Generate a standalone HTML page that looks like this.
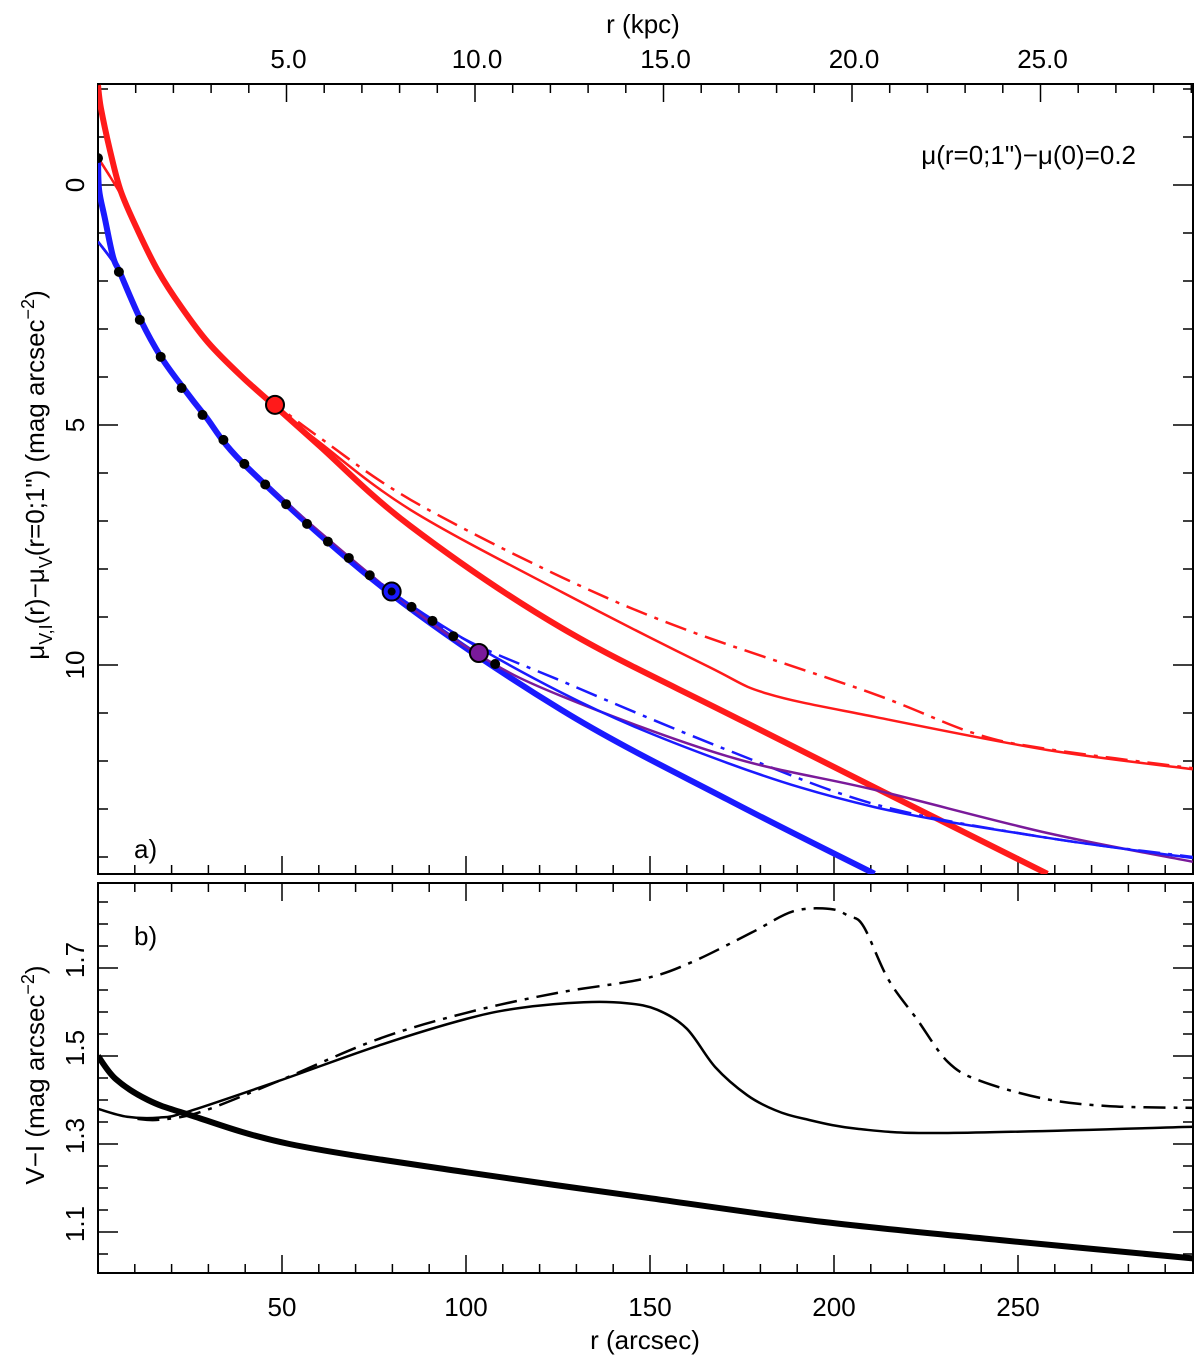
<!DOCTYPE html>
<html><head><meta charset="utf-8"><style>
html,body{margin:0;padding:0;background:#fff;}
svg{display:block;font-family:"Liberation Sans",sans-serif;}
</style></head><body>
<svg id="chart" width="1200" height="1360" viewBox="0 0 1200 1360" xmlns="http://www.w3.org/2000/svg">
<defs>
<clipPath id="clipA"><rect x="98" y="84" width="1095" height="790"/></clipPath>
<clipPath id="clipB"><rect x="98" y="883" width="1095" height="390"/></clipPath>
</defs>
<g id="axes"></g>
<g id="marksA" clip-path="url(#clipA)"></g>
<g id="marksB" clip-path="url(#clipB)"></g>
<g id="labels"></g>
</svg>
<script>
// ---- Panel a data (r in arcsec, mu in mag arcsec^-2) ----
const redThickR = [0,0.8,3.3,6.2,10.9,16.3,22.6,29.9,38.9,48,60,84.8,126,176,258];
const redThickM = [-2.08,-1.6,-0.71,0.13,0.96,1.79,2.54,3.28,3.98,4.6,5.42,7.1,9.23,11.2,14.35];
const redThinR = [0,6.2,10.9,16.3,22.6,29.9,38.9,48,60,85,126,166,182,211,258,297.5];
const redThinM = [-0.57,0.2,0.98,1.8,2.55,3.3,4.0,4.6,5.35,6.77,8.48,10.04,10.6,11.08,11.77,12.17];
const redDashR = [0,6.2,10.9,16.3,22.6,29.9,38.9,48,60,85,126,160,210,238,258,297.5];
const redDashM = [-0.57,0.2,0.98,1.8,2.55,3.28,3.97,4.55,5.25,6.56,8.17,9.27,10.58,11.42,11.75,12.15];
const blueThickR = [0,0.3,1.8,4.1,6,11.7,17.1,23.2,29,41.3,79.3,126,171,211];
const blueThickM = [-0.56,0.1,0.67,1.5,1.83,2.83,3.58,4.23,4.8,5.94,8.5,10.94,12.8,14.35];
const blueThinR = [0,6,11.7,17.1,23.2,29,41.3,79.3,126,171,211,258,297.5];
const blueThinM = [1.18,1.83,2.83,3.58,4.23,4.8,5.94,8.45,10.58,12.04,12.96,13.6,14.02];
const blueDashR = [0,6,11.7,17.1,23.2,29,41.3,68.5,95.7,128,171,212,258,297.5];
const blueDashM = [1.18,1.83,2.83,3.58,4.23,4.8,5.94,7.78,9.3,10.4,11.77,12.92,13.6,14.0];
const purpleR = [0,6,11.7,17.1,23.2,29,41.3,79.3,103.5,126,171,211,258,297.5];
const purpleM = [1.18,1.83,2.83,3.58,4.23,4.8,5.94,8.45,9.79,10.65,11.9,12.6,13.5,14.1];
const dotR = [0,5.68,11.36,17.04,22.72,28.4,34.08,39.76,45.44,51.12,56.8,62.48,68.16,73.84,79.52,85.2,90.88,96.56,102.24,107.92];
const dotM = [-0.56,1.81,2.81,3.58,4.23,4.79,5.31,5.81,6.24,6.65,7.06,7.43,7.77,8.13,8.47,8.79,9.08,9.4,9.71,9.98];
const bigR = [48.1,79.8,103.5];
const bigM = [4.58,8.47,9.75];
const bigColors = ["#ff1a1a","#1a1aff","#7a1a9a"];
// ---- Panel b data (V-I colour) ----
const viThickR = [0,4.9,13.6,24.2,52,100,149,197,246,297.5];
const viThickV = [1.50,1.447,1.40,1.368,1.30,1.236,1.178,1.123,1.081,1.04];
const viThinR = [0,7.9,16.6,24.2,49,76,100,114.6,132,143.7,152,160,167.7,176.4,184,192,206.8,231,297.5];
const viThinV = [1.38,1.362,1.36,1.373,1.443,1.523,1.584,1.609,1.622,1.62,1.605,1.562,1.475,1.411,1.377,1.357,1.334,1.325,1.339];
const viDashR = [10.7,16.6,28,49,76,100,124.5,148,161,177.5,189,199,204,208,214.7,222.5,231,239.9,257.6,275,297.5];
const viDashV = [1.357,1.355,1.373,1.443,1.538,1.598,1.643,1.675,1.712,1.78,1.829,1.834,1.818,1.795,1.675,1.584,1.486,1.443,1.402,1.386,1.382];
// ---- tick labels ----
const xTickVals = [50,100,150,200,250];
const kpcTickVals = [5,10,15,20,25];
const yaTickVals = [0,5,10];
const ybTickVals = [1.1,1.3,1.5,1.7];

const NS="http://www.w3.org/2000/svg";
const X0=98, X1=1193;
const sx = r => X0 + r*3.68;
const skpc = k => X0 + k*37.7;
const syA = m => 185 + m*48;
const syB = v => 968 + (1.7 - v)*440;
const A_T=84, A_B=874, B_T=883, B_B=1273;

function mk(tag, attrs, parent){const e=document.createElementNS(NS,tag);for(const k in attrs)e.setAttribute(k,attrs[k]);parent.appendChild(e);return e;}
function smoothPath(xs, ys){
  const p=xs.map((x,i)=>[x,ys[i]]);
  let d="M"+p[0][0].toFixed(1)+","+p[0][1].toFixed(1);
  for(let i=0;i<p.length-1;i++){
    const p0=p[i-1]||p[i], p1=p[i], p2=p[i+1], p3=p[i+2]||p[i+1];
    const c1=[p1[0]+(p2[0]-p0[0])/6, p1[1]+(p2[1]-p0[1])/6];
    const c2=[p2[0]-(p3[0]-p1[0])/6, p2[1]-(p3[1]-p1[1])/6];
    d+=" C"+c1[0].toFixed(1)+","+c1[1].toFixed(1)+" "+c2[0].toFixed(1)+","+c2[1].toFixed(1)+" "+p2[0].toFixed(1)+","+p2[1].toFixed(1);
  }
  return d;
}
const axes=document.getElementById('axes');
const labels=document.getElementById('labels');
const gA=document.getElementById('marksA');
const gB=document.getElementById('marksB');

function line(x1,y1,x2,y2,w,parent){return mk('line',{x1,y1,x2,y2,stroke:'#000','stroke-width':w},parent);}
let fa=mk('rect',{x:X0,y:A_T,width:X1-X0,height:A_B-A_T,fill:'none',stroke:'#000','stroke-width':2},axes);


let fb=mk('rect',{x:X0,y:B_T,width:X1-X0,height:B_B-B_T,fill:'none',stroke:'#000','stroke-width':2},axes);


for(let r=10;r<=290;r+=10){
  const x=sx(r), L=(r%50===0)?18:9;
  line(x,A_B,x,A_B-L,1.5,axes);
  line(x,B_B,x,B_B-L,1.5,axes);
  line(x,B_T,x,B_T+L,1.5,axes);
}
for(let k=1;k<=29;k++){
  const x=skpc(k), L=(k%5===0)?18:9;
  if(x<X1) line(x,A_T,x,A_T+L,1.5,axes);
}
for(let m=-2;m<=14;m++){
  const y=syA(m), L=(m%5===0)?20:10;
  if(y>A_T&&y<A_B){line(X0,y,X0+L,y,1.5,axes);line(X1,y,X1-L,y,1.5,axes);}
}
for(let i=0;i<=18;i++){
  const v=1.0+i*0.05, y=syB(v);
  const isMaj=Math.abs(((v-1.1)/0.2)-Math.round((v-1.1)/0.2))<1e-6;
  const L=isMaj?20:10;
  if(y>B_T&&y<B_B){line(X0,y,X0+L,y,1.5,axes);line(X1,y,X1-L,y,1.5,axes);}
}
xTickVals.forEach(v=>{const t=mk('text',{x:sx(v),y:1316,'font-size':26,'text-anchor':'middle'},labels);t.textContent=String(v);

});
kpcTickVals.forEach(v=>{const t=mk('text',{x:skpc(v)+2,y:68,'font-size':26,'text-anchor':'middle'},labels);t.textContent=v.toFixed(1);

});
yaTickVals.forEach(v=>{const y=syA(v);const t=mk('text',{x:0,y:0,'font-size':26,'text-anchor':'middle',transform:`translate(84,${y}) rotate(-90)`},labels);t.textContent=String(v);

});
ybTickVals.forEach(v=>{const y=syB(v);const t=mk('text',{x:0,y:0,'font-size':26,'text-anchor':'middle',transform:`translate(84,${y-8}) rotate(-90)`},labels);t.textContent=v.toFixed(1);

});

function series(g,xs,ys,fx,fy,color,w,dash,name){
  const p=mk('path',{d:smoothPath(xs.map(fx),ys.map(fy)),fill:'none',stroke:color,'stroke-width':w,'stroke-linejoin':'round'},g);
  if(dash)p.setAttribute('stroke-dasharray',dash);
  
  
}
const DD="22,8,4,8";
series(gA,redDashR,redDashM,sx,syA,'#ff1a1a',2.5,DD,'red-dash-dot-profile');
series(gA,redThinR,redThinM,sx,syA,'#ff1a1a',2.5,null,'red-thin-profile');
series(gA,redThickR,redThickM,sx,syA,'#ff1a1a',6,null,'red-thick-profile');
series(gA,blueDashR,blueDashM,sx,syA,'#1a1aff',2.5,DD,'blue-dash-dot-profile');
series(gA,blueThickR,blueThickM,sx,syA,'#1a1aff',6,null,'blue-thick-profile');
series(gA,purpleR,purpleM,sx,syA,'#7a1a9a',2.5,null,'purple-profile');
series(gA,blueThinR,blueThinM,sx,syA,'#1a1aff',2.5,null,'blue-thin-profile');
dotR.forEach((r,i)=>{const c=mk('circle',{cx:sx(r),cy:syA(dotM[i]),r:5,fill:'#000'},gA);

});
bigR.forEach((r,i)=>{const c=mk('circle',{cx:sx(r),cy:syA(bigM[i]),r:9,fill:bigColors[i],stroke:'#000','stroke-width':2},gA);


if(i===1){const d=mk('circle',{cx:sx(r),cy:syA(bigM[i]),r:4,fill:'#000'},gA);

}});

series(gB,viDashR,viDashV,sx,syB,'#000',2.5,DD,'vi-dash-dot');
series(gB,viThinR,viThinV,sx,syB,'#000',2.5,null,'vi-thin');
series(gB,viThickR,viThickV,sx,syB,'#000',6,null,'vi-thick');
</script>
<script>
(function(){
const NS="http://www.w3.org/2000/svg";
const svg=document.getElementById('chart');
function txt(html,attrs,name){const t=document.createElementNS(NS,'text');for(const k in attrs)t.setAttribute(k,attrs[k]);t.innerHTML=html;svg.appendChild(t);

return t;}
txt('r (kpc)',{x:643,y:33,'font-size':26,'text-anchor':'middle'},'top-axis-title');
txt('r (arcsec)',{x:645,y:1349,'font-size':26,'text-anchor':'middle'},'x-axis-title');
txt('μ(r=0;1")−μ(0)=0.2',{x:1136,y:164,'font-size':26,'text-anchor':'end'},'annotation');
txt('a)',{x:134,y:858,'font-size':26},'panel-a-label');
txt('b)',{x:134,y:945,'font-size':26},'panel-b-label');
txt('μ<tspan font-size="18" dy="8">V,I</tspan><tspan dy="-8">(r)−μ</tspan><tspan font-size="18" dy="8">V</tspan><tspan dy="-8">(r=0;1") (mag arcsec</tspan><tspan font-size="18" dy="-10">−2</tspan><tspan dy="10">)</tspan>',{x:0,y:0,'font-size':26,'text-anchor':'middle',transform:'translate(44,475) rotate(-90)'},'y-axis-title-a');
txt('V−I (mag arcsec<tspan font-size="18" dy="-10">−2</tspan><tspan dy="10">)</tspan>',{x:0,y:0,'font-size':26,'text-anchor':'middle',transform:'translate(44,1075) rotate(-90)'},'y-axis-title-b');
})();
</script>
</body></html>
